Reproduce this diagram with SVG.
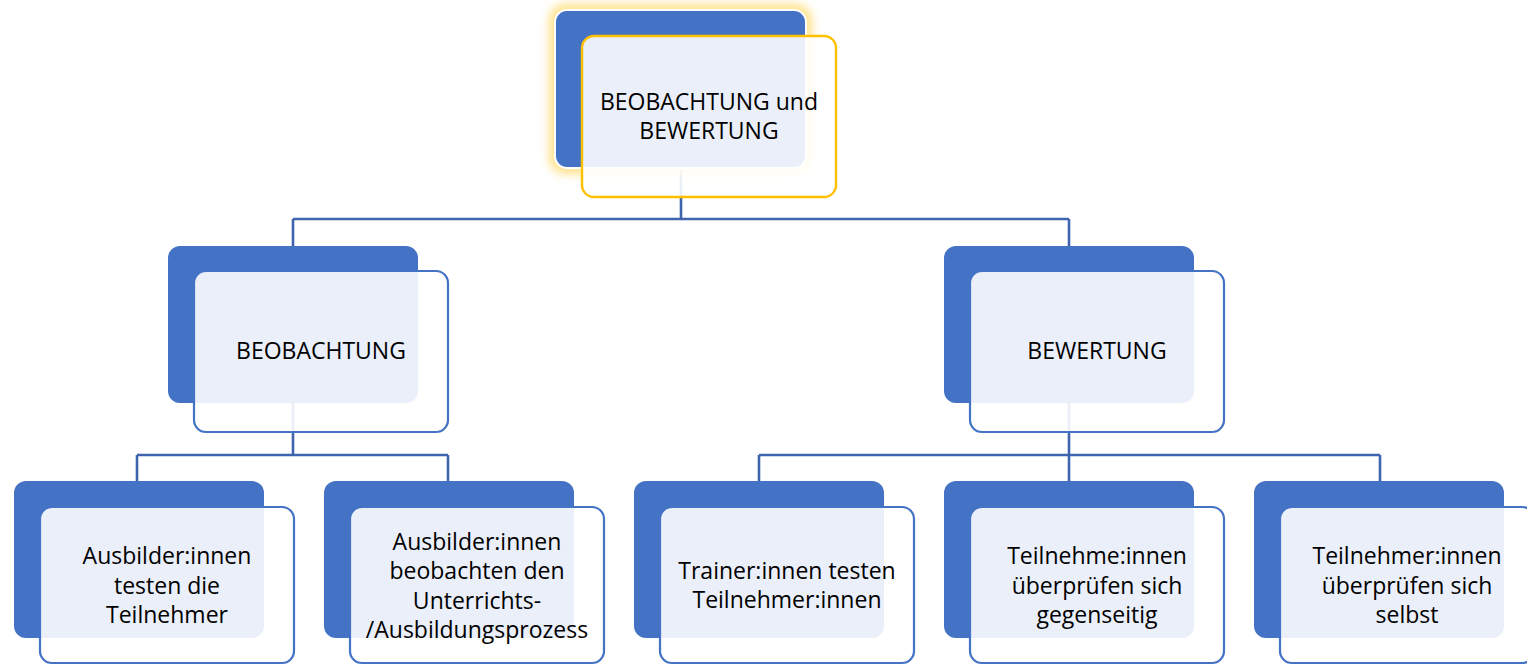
<svg xmlns="http://www.w3.org/2000/svg" width="1527" height="665" viewBox="0 0 1527 665">
<style>
.back{fill:#4472C4;}
.front{fill:#FFFFFF;fill-opacity:0.89;stroke:#4472C4;stroke-width:2.2;}
.front.gold{stroke:#FFC000;stroke-width:2.4;}
.conn{fill:none;stroke:#3F65AE;stroke-width:2.6;}
text{font-family:"Open Sans","Noto Sans","DejaVu Sans",sans-serif;font-size:23px;fill:#000;text-anchor:middle;}
</style>
<defs>
<filter id="glow" x="-20%" y="-20%" width="140%" height="140%">
<feGaussianBlur stdDeviation="5"/>
</filter>
</defs>
<rect width="1527" height="665" fill="#FFFFFF"/>
<g id="connectors">
<path class="conn" d="M681 168 V219 M293 219 H1069 M293 219 V247 M1069 219 V247"/>
<path class="conn" d="M293 403 V455 M137 455 H448 M137 455 V482 M448 455 V482"/>
<path class="conn" d="M1069 403 V455 M759 455 H1380 M759 455 V482 M1069 455 V482 M1380 455 V482"/>
</g>
<g id="node-root">
<rect x="549" y="4" width="263" height="170" rx="16" fill="#FFD966" opacity="0.75" filter="url(#glow)"/>
<rect class="back" x="555" y="10" width="251" height="158" rx="12" stroke="#FFFFFF" stroke-width="2"/>
<rect class="front gold" x="582" y="36" width="254" height="161" rx="12"/>
<text x="709" y="110">BEOBACHTUNG und</text>
<text x="709" y="139">BEWERTUNG</text>
</g>
<g id="node-beobachtung">
<rect class="back" x="168" y="246" width="250" height="157" rx="12"/>
<rect class="front" x="194" y="271" width="254" height="161" rx="12"/>
<text x="321" y="359">BEOBACHTUNG</text>
</g>
<g id="node-bewertung">
<rect class="back" x="944" y="246" width="250" height="157" rx="12"/>
<rect class="front" x="970" y="271" width="254" height="161" rx="12"/>
<text x="1097" y="359">BEWERTUNG</text>
</g>
<g id="node-ausbilder-testen">
<rect class="back" x="14" y="481" width="250" height="157" rx="12"/>
<rect class="front" x="40" y="507" width="254" height="156" rx="12"/>
<text x="167" y="564">Ausbilder:innen</text>
<text x="167" y="594">testen die</text>
<text x="167" y="623">Teilnehmer</text>
</g>
<g id="node-ausbilder-beobachten">
<rect class="back" x="324" y="481" width="250" height="157" rx="12"/>
<rect class="front" x="350" y="507" width="254" height="156" rx="12"/>
<text x="477" y="550">Ausbilder:innen</text>
<text x="477" y="579">beobachten den</text>
<text x="477" y="609">Unterrichts-</text>
<text x="477" y="638">/Ausbildungsprozess</text>
</g>
<g id="node-trainer">
<rect class="back" x="634" y="481" width="250" height="157" rx="12"/>
<rect class="front" x="660" y="507" width="254" height="156" rx="12"/>
<text x="787" y="579">Trainer:innen testen</text>
<text x="787" y="608">Teilnehmer:innen</text>
</g>
<g id="node-gegenseitig">
<rect class="back" x="944" y="481" width="250" height="157" rx="12"/>
<rect class="front" x="970" y="507" width="254" height="156" rx="12"/>
<text x="1097" y="564">Teilnehme:innen</text>
<text x="1097" y="594">überprüfen sich</text>
<text x="1097" y="623">gegenseitig</text>
</g>
<g id="node-selbst">
<rect class="back" x="1254" y="481" width="250" height="157" rx="12"/>
<rect class="front" x="1280" y="507" width="254" height="156" rx="12"/>
<text x="1407" y="564">Teilnehmer:innen</text>
<text x="1407" y="594">überprüfen sich</text>
<text x="1407" y="623">selbst</text>
</g>
</svg>
